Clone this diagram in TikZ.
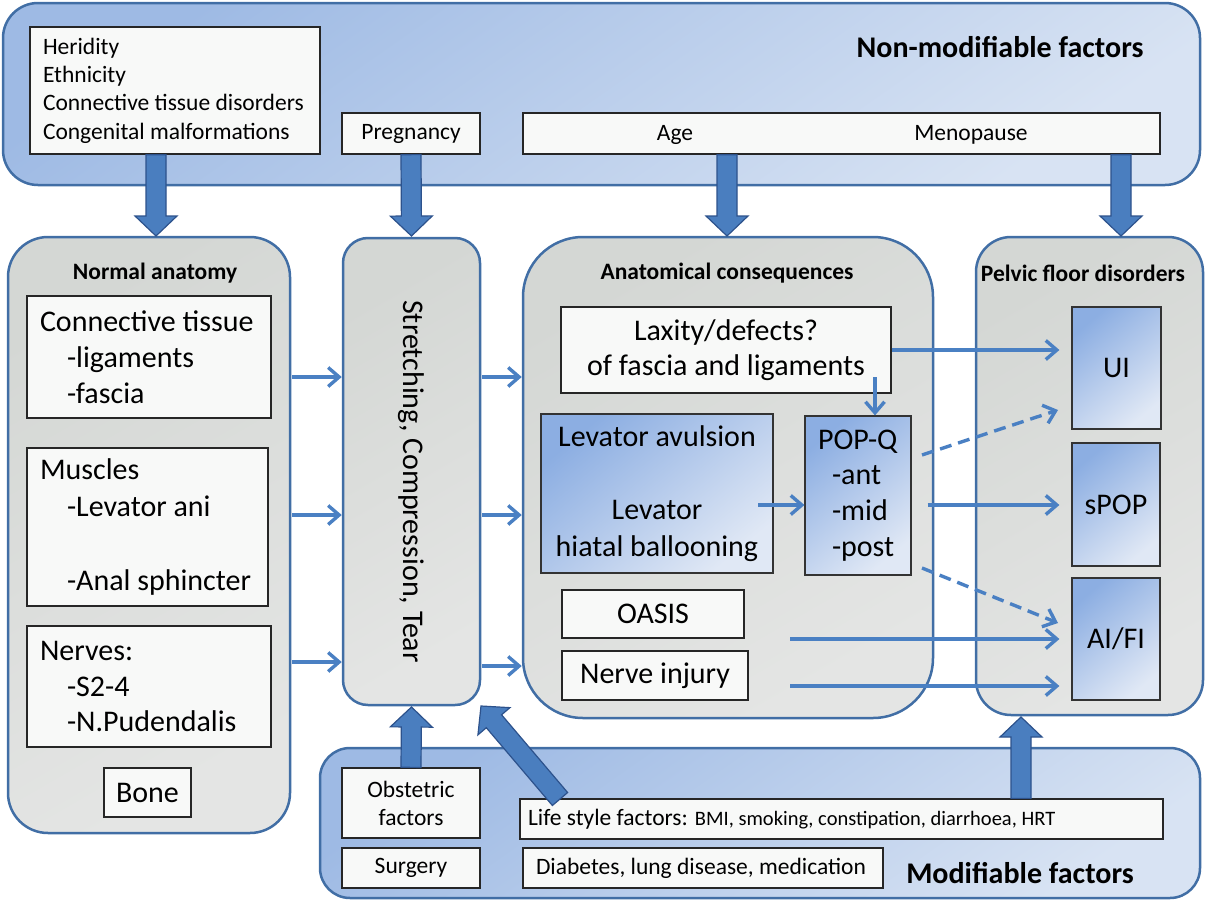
\documentclass[tikz,border=0pt]{standalone}
\usepackage{fontspec}
\setmainfont{Carlito}
\usetikzlibrary{calc,arrows.meta}
\definecolor{bord}{RGB}{65,110,165}
\definecolor{grayA}{RGB}{212,215,212}
\definecolor{grayB}{RGB}{228,229,228}
\definecolor{bigA}{RGB}{158,186,228}
\definecolor{bigB}{RGB}{216,227,243}
\definecolor{inA}{RGB}{140,174,226}
\definecolor{inB}{RGB}{224,232,245}
\definecolor{arrfill}{RGB}{74,126,191}
\definecolor{arrdraw}{RGB}{45,82,140}
\definecolor{thinc}{RGB}{74,128,195}
\definecolor{wfill}{RGB}{248,249,248}
\newcommand{\fsz}[2]{\fontsize{#1}{#2}\selectfont}
\newcommand{\ind}{\hspace*{27pt}}
\newcommand{\fatarrow}[2]{%
  \path ($(#2)!20pt!(#1)$) coordinate (fabase);
  \filldraw[fatarr] ($(#1)!10pt!90:(#2)$) -- ($(fabase)!10pt!-90:(#1)$) -- ($(fabase)!21pt!-90:(#1)$) -- (#2) -- ($(fabase)!21pt!90:(#1)$) -- ($(fabase)!10pt!90:(#1)$) -- ($(#1)!10pt!-90:(#2)$) -- cycle;}
\begin{document}
\begin{tikzpicture}[x=1pt,y=-1pt,
  bigbox/.style={draw=bord, line width=2.5pt, top color=bigA, bottom color=bigB, shading angle=35},
  group/.style={draw=bord, line width=2.5pt, top color=grayA, bottom color=grayB, shading angle=30},
  wbox/.style={draw=black!85, line width=1.3pt, fill=wfill, inner sep=0pt},
  gbox/.style={draw=black!80, line width=1.2pt, top color=inA, bottom color=inB, shading angle=40, inner sep=0pt},
  title/.style={font=\bfseries\fsz{30}{34}},
  gtitle/.style={font=\bfseries\fsz{23.5}{27}},
  fatarr/.style={fill=arrfill, draw=arrdraw, line width=1.2pt, line join=miter},
  thinarr/.style={draw=thinc, line width=3.4pt, -{Straight Barb[length=11pt,width=19pt]}},
  dsh/.style={dash pattern=on 12pt off 7pt}
]
\useasboundingbox (0,0) rectangle (1205,902);

% big factor panels
\node[bigbox, rounded corners=35, minimum width=1197, minimum height=182] (nonmod) at (601.5,94) {};
\node[title] (nonmodt) at (1000,47) {Non-modifiable factors};
\node[bigbox, rounded corners=30, minimum width=880, minimum height=150] (mod) at (760,823) {};
\node[title] (modt) at (1020,873) {Modifiable factors};

% group panels
\node[group, rounded corners=40, minimum width=282, minimum height=596] (na) at (149,535) {};
\node[gtitle] (nat) at (155,273) {Normal anatomy};
\node[group, rounded corners=25, minimum width=137, minimum height=467, font=\fsz{30}{34}] (str) at (411.5,471.5) {\rotatebox{-90}{\hspace*{20pt}Stretching, Compression, Tear}};
\node[group, rounded corners=60, minimum width=410, minimum height=481] (anac) at (728,477.5) {};
\node[gtitle] (anact) at (727,273) {Anatomical consequences};
\node[group, rounded corners=35, minimum width=227, minimum height=478] (pfd) at (1089.5,476) {};
\node[gtitle] (pfdt) at (1083,273) {Pelvic floor disorders};

% top boxes
\node[wbox, font=\fsz{23.5}{28.3}, text width=264, inner xsep=13, minimum height=127, align=flush left] (her) at (175,90.5)
  {Heridity\\Ethnicity\\Connective tissue disorders\\Congenital malformations};
\node[wbox, font=\fsz{23.5}{27}, minimum width=138, minimum height=41] (preg) at (411,133.5) {Pregnancy};
\node[wbox, minimum width=637, minimum height=41] (agebox) at (841.5,133.5) {};
\node[font=\fsz{23.5}{27}] (age) at (675,134.5) {Age};
\node[font=\fsz{23.5}{27}] (meno) at (971,134.5) {Menopause};

% normal anatomy boxes
\node[wbox, font=\fsz{30}{36}, text width=218, inner xsep=13, minimum height=122, align=flush left] (ct) at (149,357)
  {Connective tissue\\\ind-ligaments\\\ind-fascia};
\node[wbox, font=\fsz{30}{37}, text width=215, inner xsep=13, minimum height=158, align=flush left] (mus) at (147.5,527)
  {Muscles\\\ind-Levator ani\\\mbox{}\\\ind-Anal sphincter};
\node[wbox, font=\fsz{30}{35.5}, text width=218, inner xsep=13, minimum height=121, align=flush left] (nerv) at (149,686.5)
  {Nerves:\\\ind-S2-4\\\ind-N.Pudendalis};
\node[wbox, font=\fsz{30}{34}, minimum width=87, minimum height=49] (bone) at (147.5,792.5) {Bone};

% anatomical consequences
\node[wbox, font=\fsz{30}{35}, minimum width=330, minimum height=86, align=flush center] (lax) at (726,350)
  {Laxity/defects?\\of fascia and ligaments};
\node[gbox, font=\fsz{30}{36.7}, minimum width=232, minimum height=159, align=flush center] (lev) at (657,493.5)
  {Levator avulsion\\\mbox{}\\Levator\\hiatal ballooning};
\node[gbox, font=\fsz{30}{35.7}, text width=80, inner xsep=13, minimum height=159, align=flush left] (popq) at (858,495.5)
  {POP-Q\\\hspace*{14pt}-ant\\\hspace*{14pt}-mid\\\hspace*{14pt}-post};
\node[wbox, font=\fsz{30}{34}, minimum width=182, minimum height=48] (oasis) at (653,614) {OASIS};
\node[wbox, font=\fsz{30}{34}, minimum width=186, minimum height=49] (nerve) at (655,675.5) {Nerve injury};

% pelvic floor disorders
\node[gbox, font=\fsz{30}{34}, minimum width=89, minimum height=122] (ui) at (1116.5,368) {UI};
\node[gbox, font=\fsz{30}{34}, minimum width=88, minimum height=123] (spop) at (1116,504.5) {sPOP};
\node[gbox, font=\fsz{30}{34}, minimum width=88, minimum height=122] (aifi) at (1116,639) {AI/FI};

% modifiable factors
\node[wbox, font=\fsz{23.5}{28}, minimum width=138, minimum height=70, align=flush center] (obs) at (411,803) {Obstetric\\factors};
\node[wbox, font=\fsz{23.5}{27}, minimum width=138, minimum height=40] (surg) at (411,868) {Surgery};
\node[wbox, font=\fsz{23.5}{27}, text width=627, inner xsep=8, minimum height=40, align=flush left] (life) at (841.5,819)
  {Life style factors: {\fsz{20.5}{24}BMI, smoking, constipation, diarrhoea, HRT}};
\node[wbox, font=\fsz{23.5}{27}, text width=334, inner xsep=13, minimum height=40, align=flush left] (diab) at (703,868)
  {Diabetes, lung disease, medication};

% fat arrows
\coordinate (h2) at (156,236);
\coordinate (h1) at (her.south -| h2);
\fatarrow{h1}{h2}
\coordinate (p2) at (411.5,236);
\fatarrow{preg.south}{p2}
\coordinate (a2) at (727,236);
\coordinate (a1) at (agebox.south -| a2);
\fatarrow{a1}{a2}
\coordinate (m2) at (1121,236);
\coordinate (m1) at (agebox.south -| m2);
\fatarrow{m1}{m2}
\coordinate (o2) at (411.5,707);
\fatarrow{obs.north}{o2}
\coordinate (d1) at (560,799);
\coordinate (d2) at (481,706);
\fatarrow{d1}{d2}
\coordinate (f2) at (1021,717);
\coordinate (f1) at (life.north -| f2);
\fatarrow{f1}{f2}

% thin arrows
\path (0,377) coordinate (r1) (0,515) coordinate (r2) (0,662) coordinate (r3) (0,666) coordinate (r3b);
\draw[thinarr, shorten <=1pt] (na.east |- r1) -- (str.west |- r1);
\draw[thinarr, shorten <=1pt] (na.east |- r2) -- (str.west |- r2);
\draw[thinarr, shorten <=1pt] (na.east |- r3) -- (str.west |- r3);
\draw[thinarr, shorten <=1pt] (str.east |- r1) -- (anac.west |- r1);
\draw[thinarr, shorten <=1pt] (str.east |- r2) -- (anac.west |- r2);
\draw[thinarr, shorten <=1pt] (str.east |- r3b) -- (anac.west |- r3b);

\draw[thinarr, shorten >=12pt] (lax.east) -- (ui.west |- lax.east);
\coordinate (lp) at (875,377);
\draw[thinarr] (lp) -- (lp |- popq.north);
\coordinate (lv) at (758,505);
\draw[thinarr] (lv) -- (popq.west |- lv);
\coordinate (q1) at (922,455);
\coordinate (u1) at (1058,410);
\draw[thinarr, dsh] (q1) -- (u1);
\draw[thinarr, shorten <=16pt, shorten >=12pt] (popq.east |- lv) -- (spop.west |- lv);
\coordinate (q3) at (922,568);
\coordinate (u3) at (1058,623);
\draw[thinarr, dsh] (q3) -- (u3);
\coordinate (o1) at (790,639);
\draw[thinarr, shorten >=12pt] (o1) -- (aifi.west |- o1);
\coordinate (n1) at (790,686);
\draw[thinarr, shorten >=12pt] (n1) -- (aifi.west |- n1);
\end{tikzpicture}
\end{document}
